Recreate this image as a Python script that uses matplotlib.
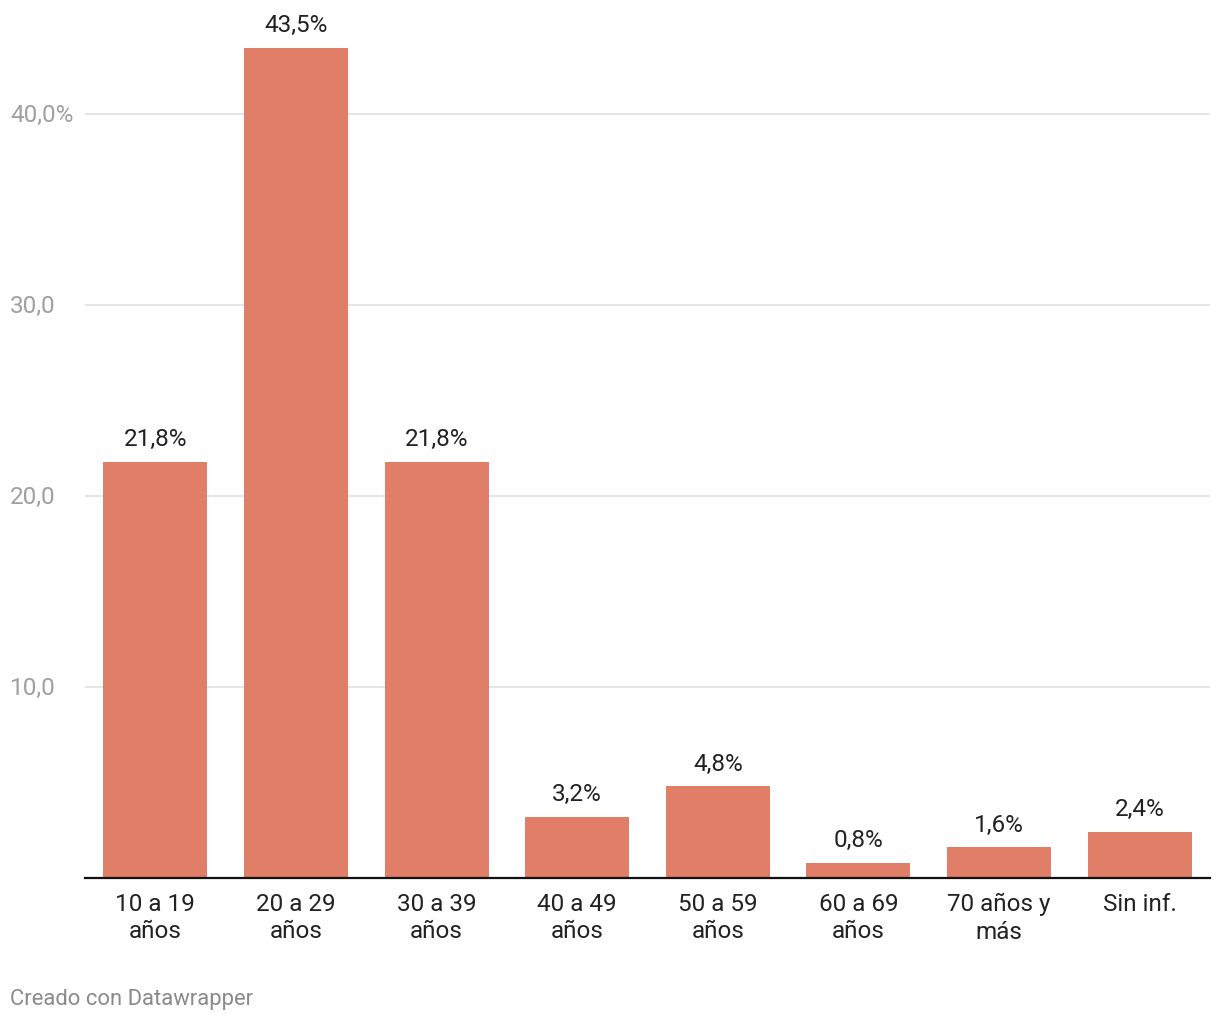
import matplotlib.pyplot as plt
import matplotlib.transforms as mtransforms

plt.rcParams['font.family'] = ['Roboto', 'DejaVu Sans']

#----------------------------------------------------------------
# data
#----------------------------------------------------------------
categories = ["10 a 19\naños", "20 a 29\naños", "30 a 39\naños", "40 a 49\naños",
              "50 a 59\naños", "60 a 69\naños", "70 años y\nmás", "Sin inf."]
values = [21.8, 43.5, 21.8, 3.2, 4.8, 0.8, 1.6, 2.4]
value_labels = ["21,8%", "43,5%", "21,8%", "3,2%", "4,8%", "0,8%", "1,6%", "2,4%"]
y_ticks = [10, 20, 30, 40]
y_tick_labels = ["10,0", "20,0", "30,0", "40,0%"]

bar_color = "#e07e67"

#----------------------------------------------------------------
# figure
#----------------------------------------------------------------
fig = plt.figure(figsize=(12.2, 10.2), dpi=100)
ax = fig.add_axes([85 / 1220, 1 - 879 / 1020, 1125 / 1220, 859 / 1020])

x = list(range(len(categories)))
ax.bar(x, values, width=0.74, color=bar_color, zorder=2)

for xi, v, lab in zip(x, values, value_labels):
    ax.annotate(lab, (xi, v), xytext=(0, 8.5), textcoords="offset points",
                ha="center", va="bottom", fontsize=17.5, color="#222222")

ax.set_xlim(-0.5, 7.5)
ax.set_ylim(0, 45)

# y labels sit at the far left of the figure, gridlines start after them
ylab_tr = mtransforms.blended_transform_factory(fig.transFigure, ax.transData)
ax.set_yticks(y_ticks)
ax.set_yticklabels([])
for t, lab in zip(y_ticks, y_tick_labels):
    ax.axhline(t, color="#e3e3e3", lw=1.3, zorder=1)
    ax.text(10 / 1220, t, lab, transform=ylab_tr, ha="left", va="center",
            fontsize=17.5, color="#a0a0a0")

ax.set_xticks(x)
ax.set_xticklabels(categories, fontsize=17.5, color="#222222", linespacing=1.25)
ax.tick_params(axis="x", length=0, pad=10)
ax.tick_params(axis="y", length=0)

for s in ["top", "right", "left"]:
    ax.spines[s].set_visible(False)
ax.spines["bottom"].set_color("#111111")
ax.spines["bottom"].set_linewidth(1.6)
ax.spines["bottom"].set_zorder(3)

fig.text(10 / 1220, 1 - 1000 / 1020, "Creado con Datawrapper", fontsize=15.8,
         color="#8a8a8a", ha="left", va="center")

fig.savefig("out.png", dpi=100)
